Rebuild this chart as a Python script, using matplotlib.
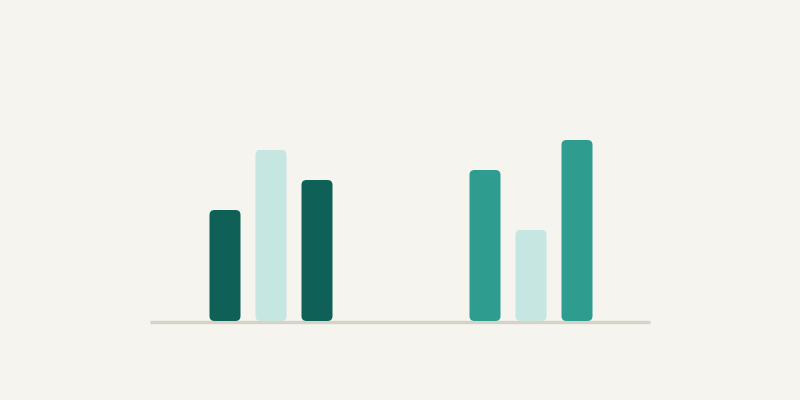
import matplotlib
matplotlib.use("Agg")
import matplotlib.pyplot as plt
import numpy as np
from matplotlib.patches import FancyBboxPatch

# ----------------------------------------------------------
# DATOS
# ----------------------------------------------------------
grupos = ["A", "B"]
valores_grupo_a = [11, 17, 14]
valores_grupo_b = [15, 9, 18]
colores_grupo_a = ["#0f6157", "#c6e6e1", "#0f6157"]
colores_grupo_b = ["#2e9c8f", "#c6e6e1", "#2e9c8f"]

FONDO = "#f5f4ef"
LINEA_BASE = "#d8d2c6"

# ----------------------------------------------------------
# GEOMETRÍA
# ----------------------------------------------------------
ancho_barra = 31 / 46
separacion_grupos = 260 / 46
px_x = 46.0   # pixeles por unidad x
px_y = 10.0   # pixeles por unidad y
radio = 5 / px_x

figura = plt.figure(figsize=(8, 4), dpi=100, facecolor=FONDO)
eje = figura.add_axes([150 / 800, 80 / 400, 500 / 800, 200 / 400])
eje.set_facecolor(FONDO)
eje.set_xlim(-75 / 46, 425 / 46)
eje.set_ylim(0, 20)
eje.axis("off")

eje.axhline(-0.2, color=LINEA_BASE, linewidth=2.4, solid_capstyle="butt",
            zorder=1, clip_on=False)

for g, (valores, colores) in enumerate([(valores_grupo_a, colores_grupo_a),
                                         (valores_grupo_b, colores_grupo_b)]):
    for i, (v, c) in enumerate(zip(valores, colores)):
        centro = g * separacion_grupos + i
        barra = FancyBboxPatch(
            (centro - ancho_barra / 2, -0.1), ancho_barra, v + 0.1,
            boxstyle=f"round,pad=0,rounding_size={radio}",
            mutation_aspect=px_x / px_y,
            facecolor=c, edgecolor="none", zorder=2, clip_on=False
        )
        eje.add_patch(barra)

figura.savefig("out.png", dpi=100, facecolor=FONDO)
